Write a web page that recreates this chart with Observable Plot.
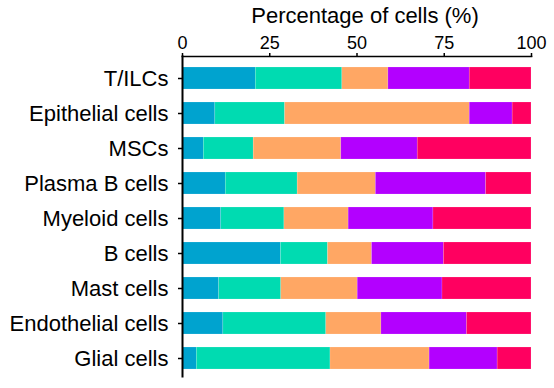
<!DOCTYPE html>
<html>
<head>
<meta charset="utf-8">
<script src="https://cdn.jsdelivr.net/npm/d3@7"></script>
<script src="https://cdn.jsdelivr.net/npm/@observablehq/plot@0.6"></script>
<style>
  html, body { margin: 0; padding: 0; background: white; }
</style>
</head>
<body>
<div id="chart"></div>
<script>
const categories = ["T/ILCs", "Epithelial cells", "MSCs", "Plasma B cells", "Myeloid cells", "B cells", "Mast cells", "Endothelial cells", "Glial cells"];
const groups = ["Group 1", "Group 2", "Group 3", "Group 4", "Group 5"];
const colors = ["#00a3cf", "#00dbb1", "#ffa764", "#b300ff", "#ff0060"];
const group1 = [21.0, 9.4, 6.1, 12.4, 11.1, 28.2, 10.5, 11.7, 4.1];
const group2 = [24.8, 20.0, 14.3, 20.6, 18.1, 13.5, 17.8, 29.5, 38.3];
const group3 = [13.2, 52.9, 25.1, 22.4, 18.4, 12.6, 21.9, 15.8, 28.4];
const group4 = [23.3, 12.3, 21.9, 31.6, 24.3, 20.6, 24.3, 24.5, 19.5];
const group5 = [17.7, 5.4, 32.6, 13.0, 28.1, 25.1, 25.5, 18.5, 9.7];
const xTicks = [0, 25, 50, 75, 100];
const xTitle = "Percentage of cells (%)";

const series = [group1, group2, group3, group4, group5];
const data = categories.flatMap((c, i) => groups.map((g, j) => ({category: c, group: g, value: series[j][i]})));

const chart = Plot.plot({
  width: 554,
  height: 388,
  marginTop: 56,
  marginLeft: 182,
  marginRight: 23,
  marginBottom: 12,
  style: {fontFamily: "'Liberation Sans', Arial, Helvetica, sans-serif", fontSize: "20px", background: "white", color: "black"},
  x: {domain: [0, 100], axis: null},
  y: {domain: categories, paddingInner: 0.375, paddingOuter: 0.23, align: 0.62, axis: null},
  color: {domain: groups, range: colors},
  marks: [
    Plot.barX(data, Plot.stackX({x: "value", y: "category", fill: "group", order: groups, stroke: "white", strokeOpacity: 0.25, strokeWidth: 0.6})),
    Plot.frame({anchor: "top", stroke: "black", strokeWidth: 1.6}),
    Plot.frame({anchor: "left", stroke: "black", strokeWidth: 2}),
    Plot.axisX({anchor: "top", ticks: xTicks, tickSize: 4, tickPadding: 4, label: null, fontSize: 18, strokeWidth: 1.5}),
    Plot.axisY({anchor: "left", tickSize: 4, tickPadding: 10, label: null, fontSize: 22, strokeWidth: 1.5}),
    Plot.text([xTitle], {frameAnchor: "top", dx: 8, dy: -34, fontSize: 22, lineAnchor: "bottom", fill: "black"})
  ]
});
document.getElementById("chart").appendChild(chart);
</script>
</body>
</html>
